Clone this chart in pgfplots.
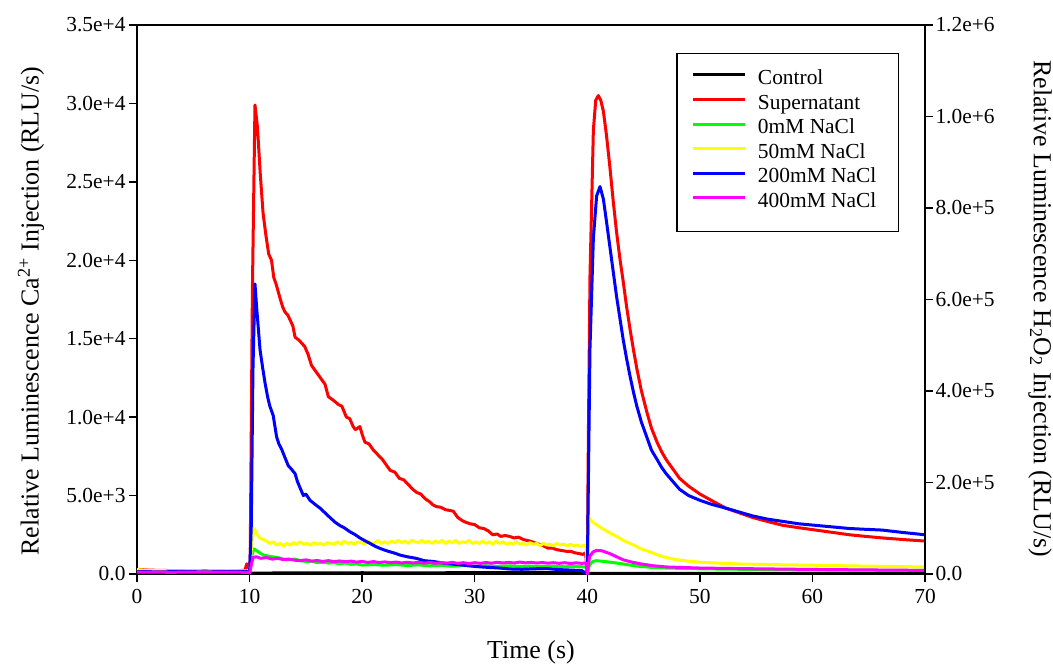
\documentclass[border=0pt]{standalone}
\usepackage{fontspec}
\setmainfont{Liberation Serif}
\usepackage{pgfplots}
\pgfplotsset{compat=1.18}
\definecolor{cRed}{RGB}{255,0,0}
\definecolor{cGreen}{RGB}{0,255,0}
\definecolor{cYellow}{RGB}{255,255,0}
\definecolor{cBlue}{RGB}{0,0,255}
\definecolor{cMag}{RGB}{255,0,255}
\begin{document}
\begin{tikzpicture}
\begin{axis}[
  at={(0bp,0bp)}, anchor=south west,
  width=788bp, height=549bp, scale only axis,
  xmin=0, xmax=70, ymin=0, ymax=35000,
  axis line style={line width=1.5bp},
  tick style={line width=1.5bp, black},
  tick align=inside, major tick length=-8bp,
  xtick pos=left, ytick pos=left,
  xtick={0,10,20,30,40,50,60,70}, xticklabels={0,10,20,30,40,50,60,70},
  ytick={0,5000,10000,15000,20000,25000,30000,35000},
  yticklabels={0.0,5.0e+3,1.0e+4,1.5e+4,2.0e+4,2.5e+4,3.0e+4,3.5e+4},
  scaled ticks=false,
  tick label style={font=\fontsize{21.5}{24}\selectfont},
  yticklabel style={xshift=-8bp},
  xticklabel style={yshift=-12bp},
  label style={font=\fontsize{26}{30}\selectfont},
  xlabel={Time (s)},
  ylabel={Relative Luminescence Ca\textsuperscript{2+} Injection (RLU/s)},
  xlabel style={at={(axis description cs:0.5,0)}, anchor=center, yshift=-78bp},
  ylabel style={at={(axis description cs:-0.1345,0.479)}, anchor=center},
  legend style={at={(axis description cs:0.967,0.949)}, anchor=north east,
    draw=black, line width=1.2bp, fill=white,
    font=\fontsize{21.5}{24.6}\selectfont,
    inner xsep=15bp, inner ysep=15bp, row sep=0bp,
    nodes={inner sep=0bp, text height=16bp, text depth=8.6bp}},
  legend cell align=left,
  legend image code/.code={\draw[#1, line width=3bp] (0bp,6bp) -- (52bp,6bp); \path (63bp,6bp);},
  every axis plot/.append style={line width=3bp, line join=round},
]
\addplot[black] coordinates {(0,60)(5,50)(9.9,60)(10.0,30)(10.2,60)(15,70)(20,80)(25,70)(30,90)(35,100)(40,80)(40.1,40)(70,40)};
\addlegendentry{Control\hspace*{7bp}}
\addplot[cRed] coordinates {(0,300)(1,250)(2,230)(3,220)(4,210)(5,200)(6,210)(7,200)(8,190)(9,200)(9.6,250)(9.75,650)(9.9,400)(10.05,300)(10.25,18000)(10.48,29900)(10.7,28500)(10.95,25500)(11.2,23000)(11.45,21600)(11.7,20400)(11.95,20000)(12.15,18900)(12.35,18500)(12.7,17600)(12.95,17000)(13.15,16700)(13.4,16500)(13.6,16200)(13.85,15800)(14.04,15100)(14.4,14900)(14.9,14500)(15.2,14000)(15.5,13300)(15.9,12900)(16.4,12400)(16.7,12100)(17.0,11300)(17.4,11100)(17.9,10800)(18.2,10700)(18.6,10000)(18.9,9900)(19.2,9400)(19.4,9200)(19.6,9300)(19.8,9400)(20.0,8900)(20.25,8400)(20.6,8300)(21.0,7900)(21.4,7600)(21.8,7300)(22.2,6900)(22.5,6600)(22.9,6500)(23.3,6100)(23.7,6000)(24.1,5700)(24.5,5400)(24.84,5200)(25.2,5100)(25.6,4800)(26.0,4600)(26.3,4400)(26.6,4300)(27.0,4250)(27.4,4100)(27.8,4050)(28.1,4000)(28.5,3600)(28.9,3400)(29.2,3300)(29.6,3200)(30.0,3150)(30.4,2950)(30.8,2900)(31.2,2750)(31.6,2500)(32.0,2550)(32.3,2400)(32.7,2450)(33.1,2400)(33.5,2300)(33.9,2350)(34.3,2200)(34.6,2150)(34.9,2100)(35.3,2000)(35.7,1900)(36.1,1800)(36.5,1650)(36.9,1650)(37.3,1550)(37.7,1500)(38.1,1450)(38.5,1450)(38.9,1350)(39.3,1300)(39.6,1250)(39.85,1350)(40.0,0)
(40.1,9000)(40.24,19000)(40.54,28300)(40.75,30200)(40.98,30500)(41.2,30200)(41.43,29500)(41.7,28000)(42.0,26000)(42.3,23800)(42.6,21800)(42.9,20100)(43.2,18600)(43.5,17000)(43.8,15600)(44.1,14300)(44.4,13100)(44.8,11700)(45.3,10300)(45.7,9300)(46.2,8400)(46.6,7800)(47.0,7300)(47.6,6700)(48.2,6100)(49.0,5600)(50.0,5100)(51.0,4700)(52.3,4200)(53.5,3900)(54.7,3600)(56.0,3350)(57.4,3100)(58.8,2950)(60.3,2800)(61.8,2650)(63.3,2500)(64.7,2400)(66.2,2300)(68.0,2200)(70.0,2100)};
\addlegendentry{Supernatant\hspace*{7bp}}
\addplot[cGreen] coordinates {(0,200)(3,180)(6,190)(9.9,180)(10.0,80)(10.2,1200)(10.4,1600)(10.7,1450)(11.0,1300)(11.3,1200)(11.6,1150)(12.0,1100)(12.5,1050)(13.0,950)(13.5,900)(14.0,950)(14.5,850)(15.0,800)(15.5,820)(16.0,720)(16.5,750)(17.0,700)(17.5,720)(18.0,650)(18.5,700)(19.0,620)(19.5,650)(20.0,570)(21,600)(22,560)(23,600)(24,540)(25,580)(26,520)(27,560)(28,500)(29,540)(30,500)(31,530)(32,490)(33,520)(34,480)(35,500)(36,470)(37,500)(38,460)(39,480)(39.9,450)(40.0,0)
(40.2,600)(40.5,800)(40.8,850)(41.5,800)(42.6,700)(43.5,600)(44.5,500)(45.6,430)(47.0,380)(50.0,330)(55.0,290)(60.0,260)(65.0,240)(70.0,230)};
\addlegendentry{0mM NaCl\hspace*{7bp}}
\addplot[cYellow] coordinates {(0,280)(1,230)(2,210)(4,200)(6,190)(8,200)(9.9,190)(10.0,100)(10.2,2000)(10.4,2900)(10.6,2600)(10.9,2300)(11.2,2200)(11.5,2100)(11.8,1950)(12.1,2050)(12.4,1850)(12.7,1950)(13.0,1800)(13.3,1950)(13.6,1850)(13.9,2000)(14.2,1900)(14.5,2050)(14.8,1900)(15.1,1950)(15.4,1850)(15.7,2000)(16.0,1900)(16.3,1950)(16.6,1850)(16.9,2000)(17.2,1950)(17.5,1900)(17.8,2050)(18.1,1900)(18.4,2100)(18.7,1950)(19.0,2000)(19.3,1900)(19.6,2050)(19.9,2000)(20.2,1900)(20.5,2100)(20.8,1950)(21.1,2000)(21.4,2150)(21.7,1950)(22.0,2050)(22.3,1950)(22.6,2100)(22.9,2000)(23.2,2150)(23.5,2000)(23.8,2100)(24.1,1950)(24.4,2150)(24.7,2050)(25.0,2000)(25.3,2150)(25.6,2000)(25.9,2100)(26.2,1950)(26.5,2100)(26.8,2000)(27.1,2150)(27.4,1950)(27.7,2100)(28.0,2000)(28.3,2150)(28.6,1950)(28.9,2050)(29.2,2000)(29.5,2150)(29.8,1950)(30.1,2050)(30.4,1950)(30.7,2100)(31.0,1950)(31.3,2050)(31.6,1900)(31.9,2100)(32.2,1950)(32.5,2050)(32.8,1900)(33.1,2000)(33.4,1900)(33.7,2050)(34.0,1900)(34.3,1950)(34.6,1850)(34.9,2000)(35.2,1900)(35.5,1950)(35.8,1800)(36.1,1950)(36.4,1850)(36.7,1900)(37.0,1800)(37.3,1950)(37.6,1850)(37.9,1900)(38.2,1800)(38.5,1900)(38.8,1800)(39.1,1850)(39.4,1750)(39.7,1850)(39.9,1800)(40.0,0)
(40.1,3700)(40.3,3400)(40.6,3250)(41.1,3000)(41.8,2700)(42.6,2400)(43.3,2100)(44.1,1850)(44.8,1600)(45.6,1400)(46.3,1200)(47.0,1050)(48.0,900)(49.0,820)(50.0,750)(52.0,680)(54.0,630)(56.0,600)(60.0,560)(65.0,500)(70.0,450)};
\addlegendentry{50mM NaCl\hspace*{7bp}}
\addplot[cBlue] coordinates {(0,150)(2,140)(4,150)(6,140)(8,150)(9.9,150)(10.0,80)(10.15,3000)(10.3,13000)(10.48,18500)(10.65,16800)(10.93,14300)(11.15,13200)(11.37,12200)(11.6,11300)(11.8,10700)(12.1,10100)(12.4,8750)(12.6,8300)(12.85,7950)(13.1,7500)(13.44,6900)(13.7,6700)(14.04,6400)(14.25,5900)(14.48,5500)(14.78,5000)(15.0,5100)(15.37,4700)(15.8,4450)(16.26,4200)(16.7,3900)(17.14,3600)(17.6,3300)(18.0,3100)(18.4,2950)(18.9,2700)(19.4,2500)(19.8,2300)(20.3,2100)(20.7,1950)(21.2,1750)(21.7,1600)(22.3,1450)(22.8,1350)(23.4,1200)(24.0,1100)(24.8,1000)(25.5,850)(26.3,800)(27.2,700)(28.2,620)(29.2,550)(30.2,470)(31.2,420)(32.2,380)(33.2,320)(34.2,300)(35.2,330)(36.3,350)(37.5,280)(38.5,250)(39.5,220)(40.0,0)
(40.1,6000)(40.24,14400)(40.54,21400)(40.83,24100)(41.13,24700)(41.43,23900)(41.7,22500)(42.0,20900)(42.3,19300)(42.6,17700)(42.9,16300)(43.2,14900)(43.5,13700)(43.8,12600)(44.1,11600)(44.4,10700)(44.8,9700)(45.3,8700)(45.7,7900)(46.2,7300)(46.6,6800)(47.0,6400)(47.6,5900)(48.2,5400)(49.0,5000)(50.0,4700)(51.0,4450)(52.3,4200)(53.5,3950)(54.7,3700)(56.0,3500)(57.4,3350)(58.8,3200)(60.3,3100)(61.8,3000)(63.3,2900)(64.7,2850)(66.2,2800)(68.0,2650)(70.0,2500)};
\addlegendentry{200mM NaCl\hspace*{7bp}}
\addplot[cMag] coordinates {(0,120)(3,110)(6,120)(9.9,110)(10.0,60)(10.3,1050)(10.6,1100)(11.0,1000)(11.5,1050)(12.0,950)(12.5,1000)(13.0,920)(13.5,950)(14.0,880)(14.5,850)(15.0,900)(15.5,820)(16.0,860)(16.5,800)(17.0,850)(17.5,790)(18.0,830)(18.5,780)(19.0,820)(19.5,760)(20.0,800)(20.5,740)(21,790)(21.5,730)(22,770)(22.5,720)(23,760)(23.5,700)(24,750)(24.5,700)(25,740)(25.5,690)(26,730)(26.5,680)(27,720)(27.5,690)(28,740)(28.5,680)(29,720)(29.5,670)(30,720)(30.5,680)(31,730)(31.5,690)(32,750)(32.5,700)(33,740)(33.5,700)(34,760)(34.5,710)(35,740)(35.5,700)(36,730)(36.5,690)(37,720)(37.5,680)(38,720)(38.5,670)(39,710)(39.5,680)(39.9,700)(40.0,0)
(40.2,1100)(40.5,1400)(40.8,1500)(41.3,1480)(42.0,1300)(42.6,1100)(43.2,900)(44.0,750)(44.7,650)(45.8,530)(47.0,450)(50.0,380)(53.0,350)(60.0,290)(65.0,260)(70.0,230)};
\addlegendentry{400mM NaCl\hspace*{7bp}}
\end{axis}
\begin{axis}[
  at={(0bp,0bp)}, anchor=south west,
  width=788bp, height=549bp, scale only axis,
  xmin=0, xmax=70, ymin=0, ymax=1200000,
  axis x line=none, axis y line*=right,
  axis line style={line width=1.5bp, -},
  tick style={line width=1.5bp, black},
  tick align=inside, major tick length=-8bp,
  ytick={0,200000,400000,600000,800000,1000000,1200000},
  yticklabels={0.0,2.0e+5,4.0e+5,6.0e+5,8.0e+5,1.0e+6,1.2e+6},
  scaled ticks=false,
  tick label style={font=\fontsize{21.5}{24}\selectfont},
  yticklabel style={xshift=7bp},
  label style={font=\fontsize{26}{30}\selectfont},
  ylabel={Relative Luminescence H\textsubscript{2}O\textsubscript{2} Injection (RLU/s)},
  ylabel style={at={(axis description cs:1.146,0.483)}, anchor=center, rotate=180},
]
\addplot[draw=none] coordinates {(0,0)};
\end{axis}
\pgfresetboundingbox
\useasboundingbox (-137bp,-94bp) rectangle (916bp,574bp);
\end{tikzpicture}
\end{document}
